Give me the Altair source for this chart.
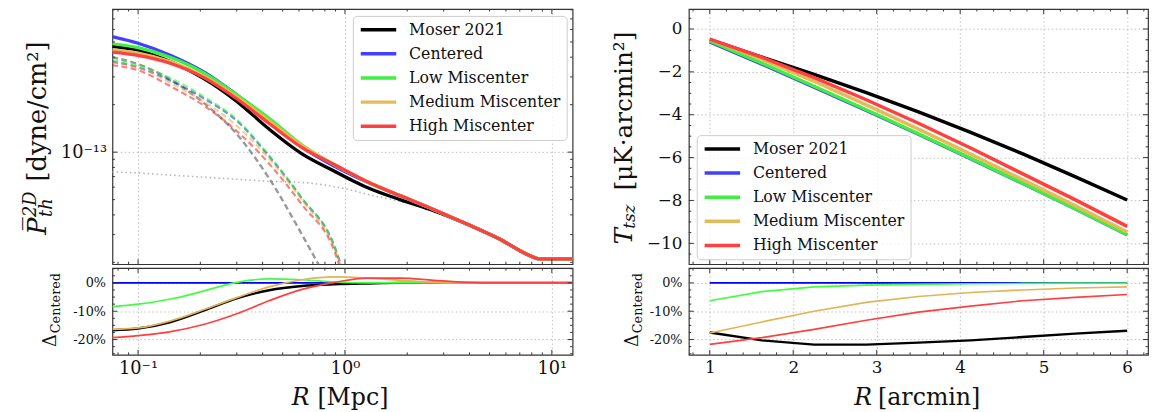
import altair as alt
import pandas as pd

FONT = "DejaVu Serif"
FRAME = "#333333"
GRIDC = "#b0b0b0"
INK = "#111111"

NAMES = ["Moser 2021", "Centered", "Low Miscenter", "Medium Miscenter", "High Miscenter"]
TOP_COLORS = ["#000000", "#4040ff", "#40f040", "#e3bc58", "#ff4040"]
RES_COLORS = ["#000000", "#0000ff", "#40ff40", "#e3b455", "#ff4040"]

# ---------------- left: projected pressure profiles ----------------
R_P = [0.075, 0.1, 0.144, 0.207, 0.3, 0.43, 0.62, 0.89, 1.08, 1.29, 1.86, 2.68, 3.86, 5.56, 7.8, 8.7, 12.6]
P_MOSER = [4.69e-13, 4.43e-13, 3.74e-13, 2.94e-13, 2.10e-13, 1.40e-13, 9.76e-14, 7.57e-14, 6.64e-14,
           5.94e-14, 4.98e-14, 4.25e-14, 3.51e-14, 2.82e-14, 2.21e-14, 2.10e-14, 2.10e-14]
P_CENT = [5.41e-13, 4.91e-13, 4.11e-13, 3.24e-13, 2.31e-13, 1.61e-13, 1.08e-13, 8.13e-14, 7.16e-14,
          6.43e-14, 5.27e-14, 4.33e-14, 3.51e-14, 2.82e-14, 2.21e-14, 2.10e-14, 2.10e-14]
P_LOW = [4.87e-13, 4.60e-13, 3.98e-13, 3.19e-13, 2.31e-13, 1.64e-13, 1.11e-13, 8.32e-14, 7.28e-14,
         6.46e-14, 5.28e-14, 4.33e-14, 3.51e-14, 2.82e-14, 2.21e-14, 2.10e-14, 2.10e-14]
P_MED = [4.46e-13, 4.25e-13, 3.74e-13, 3.04e-13, 2.24e-13, 1.58e-13, 1.10e-13, 8.32e-14, 7.28e-14,
         6.46e-14, 5.28e-14, 4.33e-14, 3.51e-14, 2.82e-14, 2.21e-14, 2.10e-14, 2.10e-14]
P_HIGH = [4.31e-13, 4.11e-13, 3.65e-13, 2.98e-13, 2.18e-13, 1.52e-13, 1.07e-13, 8.32e-14, 7.28e-14,
          6.46e-14, 5.28e-14, 4.33e-14, 3.51e-14, 2.82e-14, 2.21e-14, 2.10e-14, 2.10e-14]

# dashed (one-halo like) components
R_DG = [0.075, 0.1, 0.144, 0.207, 0.3, 0.43, 0.62, 0.748]
D_GRAY = [4.00e-13, 3.62e-13, 2.87e-13, 2.06e-13, 1.30e-13, 6.82e-14, 3.00e-14, 1.92e-14]
R_DC = [0.075, 0.1, 0.144, 0.207, 0.3, 0.43, 0.62, 0.894, 0.962]
D_CENT = [3.75e-13, 3.45e-13, 2.84e-13, 2.20e-13, 1.58e-13, 9.40e-14, 5.08e-14, 2.48e-14, 1.87e-14]
D_LOW = [3.83e-13, 3.56e-13, 2.94e-13, 2.26e-13, 1.61e-13, 9.52e-14, 5.11e-14, 2.49e-14, 1.87e-14]
D_MED = [3.69e-13, 3.45e-13, 2.74e-13, 2.10e-13, 1.47e-13, 9.08e-14, 4.98e-14, 2.43e-14, 1.87e-14]
R_DH = [0.075, 0.1, 0.144, 0.207, 0.3, 0.43, 0.62, 0.894, 0.945]
D_HIGH = [3.56e-13, 3.31e-13, 2.61e-13, 1.98e-13, 1.36e-13, 8.45e-14, 4.64e-14, 2.31e-14, 1.87e-14]

# dotted (two-halo like) component
R_DOT = [0.075, 0.1, 0.144, 0.3, 0.43, 0.62, 0.89, 1.07, 1.29, 1.86, 2.68, 3.86, 5.56, 7.8]
P_DOT = [7.50e-14, 7.37e-14, 7.15e-14, 6.73e-14, 6.53e-14, 6.42e-14, 6.04e-14, 5.75e-14, 5.39e-14,
         4.87e-14, 4.33e-14, 3.51e-14, 2.82e-14, 2.21e-14]

# residuals (percent) left
R_RL = [0.075, 0.1, 0.144, 0.207, 0.3, 0.43, 0.62, 0.89, 1.29, 1.86, 2.68, 3.86, 5.56, 8.0, 12.6]
DL_MOSER = [-16.7, -16.1, -13.8, -9.8, -5.5, -2.6, -1.1, -0.5, -0.2, 0.0, 0.0, 0.0, 0.0, 0.0, 0.0]
DL_CENT = [0.0, 0.0, 0.0, 0.0, 0.0, 0.0, 0.0, 0.0, 0.0, 0.0, 0.0, 0.0, 0.0, 0.0, 0.0]
DL_LOW = [-8.4, -7.5, -5.7, -2.9, 0.2, 1.4, 1.1, 0.3, 0.0, 0.0, 0.0, 0.0, 0.0, 0.0, 0.0]
DL_MED = [-16.4, -15.9, -13.4, -9.5, -5.2, -1.4, 1.1, 2.1, 1.7, 0.9, 0.2, 0.0, 0.0, 0.0, 0.0]
DL_HIGH = [-19.3, -18.6, -17.2, -14.7, -10.9, -6.3, -2.3, 0.2, 1.7, 1.7, 0.9, 0.2, 0.0, 0.0, 0.0]

# ---------------- right: tSZ profiles ----------------
R_T = [1.0, 1.625, 2.25, 2.875, 3.5, 4.125, 4.75, 5.375, 6.0]
T_MOSER = [-0.50, -1.31, -2.12, -2.97, -3.87, -4.82, -5.83, -6.89, -7.98]
T_CENT = [-0.60, -1.64, -2.71, -3.80, -4.91, -6.05, -7.21, -8.39, -9.60]
T_LOW = [-0.56, -1.59, -2.67, -3.77, -4.89, -6.03, -7.20, -8.38, -9.59]
T_MED = [-0.49, -1.41, -2.44, -3.54, -4.67, -5.84, -7.03, -8.24, -9.47]
T_HIGH = [-0.47, -1.32, -2.27, -3.30, -4.40, -5.55, -6.76, -7.96, -9.21]

DR_MOSER = [-17.5, -20.3, -21.8, -21.8, -21.1, -20.3, -19.1, -17.9, -16.9]
DR_CENT = [0.0, 0.0, 0.0, 0.0, 0.0, 0.0, 0.0, 0.0, 0.0]
DR_LOW = [-6.3, -3.1, -1.4, -0.8, -0.5, -0.3, -0.2, -0.1, -0.1]
DR_MED = [-17.7, -13.8, -10.0, -6.9, -4.8, -3.4, -2.5, -1.8, -1.4]
DR_HIGH = [-21.7, -19.3, -16.4, -13.2, -10.3, -8.2, -6.3, -5.1, -4.1]

# ---------------- tick values ----------------
XT_L_MAJ = [0.1, 1, 10]
XT_L_MIN = [0.08, 0.09, 0.2, 0.3, 0.4, 0.5, 0.6, 0.7, 0.8, 0.9, 2, 3, 4, 5, 6, 7, 8, 9]
YT_P_MAJ = [1e-13]
YT_P_MIN = [2e-14, 3e-14, 4e-14, 5e-14, 6e-14, 7e-14, 8e-14, 9e-14,
            2e-13, 3e-13, 4e-13, 5e-13, 6e-13, 7e-13, 8e-13]
XT_R_MAJ = [1, 2, 3, 4, 5, 6]
XT_R_MIN = [0.8, 1.2, 1.4, 1.6, 1.8, 2.2, 2.4, 2.6, 2.8, 3.2, 3.4, 3.6, 3.8,
            4.2, 4.4, 4.6, 4.8, 5.2, 5.4, 5.6, 5.8, 6.2]
YT_T_MAJ = [-10, -8, -6, -4, -2, 0]
YT_T_MIN = [-10.5, -9.5, -9, -8.5, -7.5, -7, -6.5, -5.5, -5, -4.5, -3.5, -3, -2.5, -1.5, -1, -0.5, 0.5]
YT_D_MAJ = [-20, -10, 0]
YT_D_MIN = [-25, -22.5, -17.5, -15, -12.5, -7.5, -5, -2.5, 2.5, 5]

# ---------------- geometry ----------------
W_L, W_R, H_T, H_B = 467, 466, 259, 88

XS_L = alt.Scale(type="log", domain=[0.0752, 12.6], nice=False)
YS_P = alt.Scale(type="log", domain=[1.946e-14, 8.09e-13], nice=False)
XS_R = alt.Scale(domain=[0.75, 6.25], nice=False, zero=False)
YS_T = alt.Scale(domain=[-10.975, 0.933], nice=False, zero=False)
YS_D = alt.Scale(domain=[-25.4, 5.2], nice=False, zero=False)


def sdf(x, y, name):
    return pd.DataFrame({"x": x, "y": y, "s": name})


def legend(x, y):
    return alt.Legend(title=None, orient="none", legendX=x, legendY=y, symbolType="stroke",
                      symbolSize=1296, symbolStrokeWidth=3.5, clipHeight=16, rowPadding=8.5,
                      labelFont=FONT, labelFontSize=16, labelColor=INK, labelOffset=11, padding=6,
                      strokeColor="#cccccc", fillColor="rgba(255,255,255,0.8)", cornerRadius=4)


def line(df, xs, ys, xa, ya, color, width, dash=None, opacity=1.0, interp="monotone"):
    kw = dict(strokeWidth=width, opacity=opacity, interpolate=interp, clip=True)
    if dash:
        kw["strokeDash"] = dash
    return alt.Chart(df).mark_line(**kw).encode(
        x=alt.X("x:Q", scale=xs, axis=xa),
        y=alt.Y("y:Q", scale=ys, axis=ya),
        color=color,
    )


def frame_ticks(xs, ys, xa, ya, xmaj, xmin, ymaj, ymin, W, H):
    out = []
    for vals, L in ((xmaj, 5), (xmin, 2.5)):
        df = pd.DataFrame({"v": vals})
        for y0, y1 in ((0, L), (H, H - L)):
            out.append(alt.Chart(df).mark_rule(color=FRAME, strokeWidth=1).encode(
                x=alt.X("v:Q", scale=xs, axis=xa), x2="v:Q",
                y=alt.value(y0), y2=alt.value(y1)))
    for vals, L in ((ymaj, 5), (ymin, 2.5)):
        df = pd.DataFrame({"v": vals})
        for x0, x1 in ((0, L), (W, W - L)):
            out.append(alt.Chart(df).mark_rule(color=FRAME, strokeWidth=1).encode(
                y=alt.Y("v:Q", scale=ys, axis=ya), y2="v:Q",
                x=alt.value(x0), x2=alt.value(x1)))
    return out


def text(t, x, y, size, angle=None, align="left", italic=False, baseline="middle"):
    kw = dict(text=t, font=FONT, fontSize=size, align=align, baseline=baseline, color=INK)
    if angle is not None:
        kw["angle"] = angle
    if italic:
        kw["fontStyle"] = "italic"
    return alt.Chart(pd.DataFrame({"a": [0]})).mark_text(**kw).encode(x=alt.value(x), y=alt.value(y))


def grid_axis(values, **kw):
    return alt.Axis(values=values, grid=True, title=None, **kw)


# ---------------- top-left ----------------
XA_TL = grid_axis(XT_L_MAJ, labels=False)
YA_TL = grid_axis(YT_P_MAJ, labelExpr="'10⁻¹³'", labelFontSize=18, labelPadding=6)
leg_l = legend(244, 7)
tl_layers = [
    line(sdf(R_DOT, P_DOT, "dot"), XS_L, YS_P, XA_TL, YA_TL, alt.value("#b5b5b5"), 1.6, dash=[1.5, 3]),
    line(sdf(R_DG, D_GRAY, "g"), XS_L, YS_P, XA_TL, YA_TL, alt.value("#7f7f7f"), 2.4, dash=[6, 3.5], opacity=0.8),
    line(sdf(R_DC, D_CENT, "b"), XS_L, YS_P, XA_TL, YA_TL, alt.value("#0000ff"), 2.2, dash=[6, 3.5], opacity=0.5),
    line(sdf(R_DC, D_LOW, "l"), XS_L, YS_P, XA_TL, YA_TL, alt.value("#00ff00"), 2.2, dash=[6, 3.5], opacity=0.5),
    line(sdf(R_DC, D_MED, "m"), XS_L, YS_P, XA_TL, YA_TL, alt.value("#daa520"), 2.2, dash=[6, 3.5], opacity=0.5),
    line(sdf(R_DH, D_HIGH, "h"), XS_L, YS_P, XA_TL, YA_TL, alt.value("#ff0000"), 2.2, dash=[6, 3.5], opacity=0.5),
]
for name, vals in zip(NAMES, [P_MOSER, P_CENT, P_LOW, P_MED, P_HIGH]):
    col = alt.Color("s:N", scale=alt.Scale(domain=NAMES, range=TOP_COLORS), legend=leg_l)
    tl_layers.append(line(sdf(R_P, vals, name), XS_L, YS_P, XA_TL, YA_TL, col, 3.3))
tl_layers += frame_ticks(XS_L, YS_P, XA_TL, YA_TL, XT_L_MAJ, XT_L_MIN, YT_P_MAJ, YT_P_MIN, W_L, H_T)
tl_layers += [
    text("P\u0305", -75, 229, 26, angle=270, italic=True),
    text("2D", -83, 211, 18, angle=270, italic=True),
    text("th", -66, 211, 18, angle=270, italic=True),
    text("[dyne/cm²]", -75, 175, 26, angle=270),
]
tl = alt.layer(*tl_layers).properties(width=W_L, height=H_T)

# ---------------- bottom-left ----------------
XA_BL = grid_axis(XT_L_MAJ, labelFontSize=18, labelPadding=5,
                  labelExpr="datum.value < 0.5 ? '10⁻¹' : datum.value < 5 ? '10⁰' : '10¹'")
YA_BL = grid_axis(YT_D_MAJ, labelFontSize=13, labelPadding=7, labelExpr="datum.value + '%'")
bl_layers = []
for name, vals in zip(NAMES, [DL_MOSER, DL_CENT, DL_LOW, DL_MED, DL_HIGH]):
    col = alt.Color("s:N", scale=alt.Scale(domain=NAMES, range=RES_COLORS), legend=None)
    w = 2.4 if name == "Moser 2021" else 1.7
    bl_layers.append(line(sdf(R_RL, vals, name), XS_L, YS_D, XA_BL, YA_BL, col, w))
bl_layers += frame_ticks(XS_L, YS_D, XA_BL, YA_BL, XT_L_MAJ, XT_L_MIN, YT_D_MAJ, YT_D_MIN, W_L, H_B)
bl_layers += [
    text("Δ", -62, 80, 18, angle=270),
    text("Centered", -57, 66, 13, angle=270),
    text("R", 200, 139, 24, align="right", italic=True, baseline="alphabetic"),
    text("[Mpc]", 208, 139, 24, baseline="alphabetic"),
]
bl = alt.layer(*bl_layers).properties(width=W_L, height=H_B)

# ---------------- top-right ----------------
XA_TR = grid_axis(XT_R_MAJ, labels=False)
YA_TR = grid_axis(YT_T_MAJ, labelFontSize=17, labelPadding=7, format="d")
leg_r = legend(8, 128)
tr_layers = []
for name, vals in zip(NAMES, [T_MOSER, T_CENT, T_LOW, T_MED, T_HIGH]):
    col = alt.Color("s:N", scale=alt.Scale(domain=NAMES, range=TOP_COLORS), legend=leg_r)
    tr_layers.append(line(sdf(R_T, vals, name), XS_R, YS_T, XA_TR, YA_TR, col, 3.5, interp="linear"))
tr_layers += frame_ticks(XS_R, YS_T, XA_TR, YA_TR, XT_R_MAJ, XT_R_MIN, YT_T_MAJ, YT_T_MIN, W_R, H_T)
tr_layers += [
    text("T", -66, 239, 25, angle=270, italic=True),
    text("tsz", -60, 223, 17, angle=270, italic=True),
    text("[μK·arcmin²]", -66, 184, 25, angle=270),
]
tr = alt.layer(*tr_layers).properties(width=W_R, height=H_T)

# ---------------- bottom-right ----------------
XA_BR = grid_axis(XT_R_MAJ, labelFontSize=17, labelPadding=5, format="d")
YA_BR = grid_axis(YT_D_MAJ, labelFontSize=13, labelPadding=7, labelExpr="datum.value + '%'")
br_layers = []
for name, vals in zip(NAMES, [DR_MOSER, DR_CENT, DR_LOW, DR_MED, DR_HIGH]):
    col = alt.Color("s:N", scale=alt.Scale(domain=NAMES, range=RES_COLORS), legend=None)
    w = 2.4 if name == "Moser 2021" else 1.7
    br_layers.append(line(sdf(R_T, vals, name), XS_R, YS_D, XA_BR, YA_BR, col, w, interp="linear"))
br_layers += frame_ticks(XS_R, YS_D, XA_BR, YA_BR, XT_R_MAJ, XT_R_MIN, YT_D_MAJ, YT_D_MIN, W_R, H_B)
br_layers += [
    text("Δ", -57, 80, 18, angle=270),
    text("Centered", -52, 66, 13, angle=270),
    text("R", 186, 139, 24, align="right", italic=True, baseline="alphabetic"),
    text("[arcmin]", 192, 139, 24, baseline="alphabetic"),
]
br = alt.layer(*br_layers).properties(width=W_R, height=H_B)

left = alt.vconcat(tl, bl, spacing=0).resolve_scale(color="independent", x="independent", y="independent")
right = alt.vconcat(tr, br, spacing=0).resolve_scale(color="independent", x="independent", y="independent")
chart = (
    alt.hconcat(left, right, spacing=37)
    .resolve_scale(color="independent", x="independent", y="independent")
    .properties(padding={"left": 13, "top": -4, "right": 0, "bottom": 0}, background="white")
    .configure_view(stroke=FRAME, strokeWidth=1.2)
    .configure_axis(labelFont=FONT, labelColor=INK, gridColor=GRIDC, gridDash=[1.5, 2.5],
                    gridWidth=0.8, gridOpacity=1, domain=False, ticks=False)
)

chart.save("out.html", embed_options={"renderer": "svg", "actions": False})
